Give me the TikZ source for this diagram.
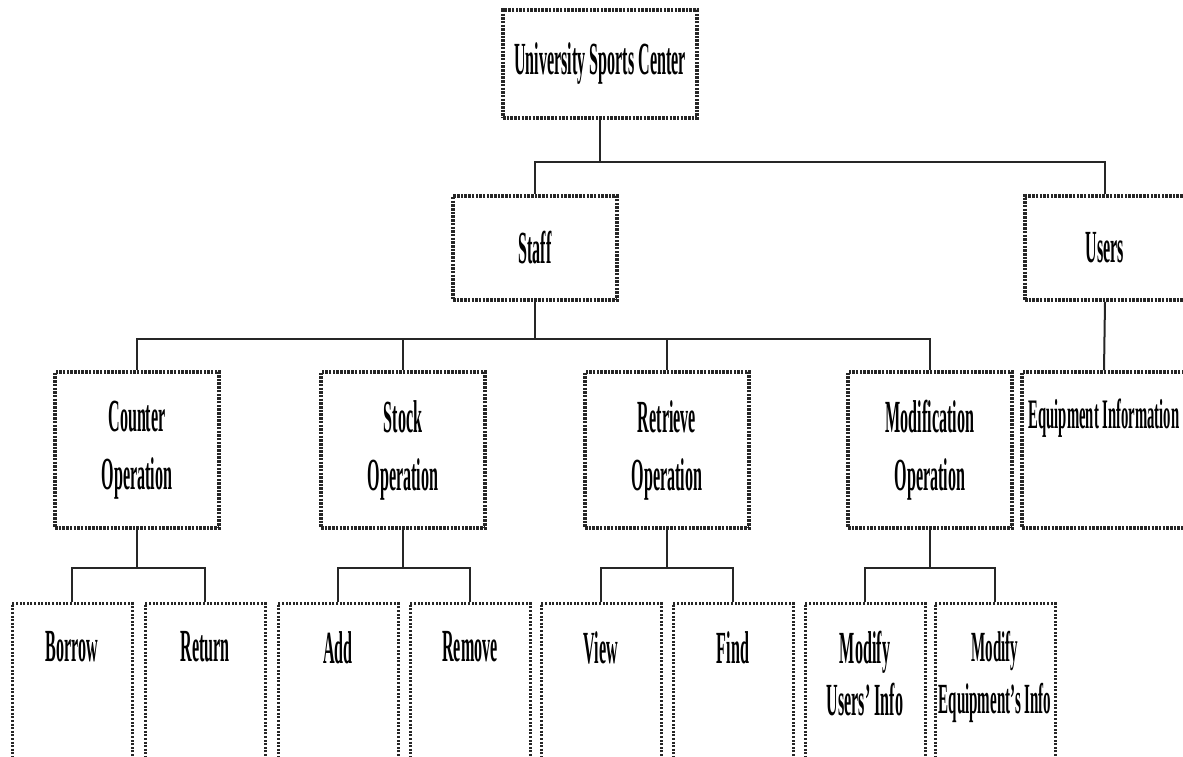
\documentclass[tikz,border=0pt]{standalone}
\usepackage{fontspec}
\setmainfont[FakeStretch=0.35]{Liberation Serif}
\usetikzlibrary{positioning,calc}

\begin{document}
\begin{tikzpicture}[
  x=1pt, y=-1pt,
  font=\fontsize{46}{52}\selectfont\bfseries,
  unit/.style={
    rectangle, draw=black!85, line width=3.6pt, dash pattern=on 2.5pt off 1.2pt,
    minimum width=164, minimum height=104, align=center, inner sep=0pt
  },
  task/.style={unit, minimum height=156, font=\fontsize{46}{58}\selectfont\bfseries},
  leaf/.style={
    rectangle, draw=black!85, line width=3pt, dash pattern=on 2pt off 1.6pt,
    minimum width=120, minimum height=180, anchor=north
  },
  toplabel/.style={anchor=north, inner sep=0pt, yshift=-29, align=center},
  link/.style={draw=black!85, line width=2pt}
]
\useasboundingbox (0,0) rectangle (1183,756);
\clip (0,0) rectangle (1183,756);
\fill[white] (0,0) rectangle (1183,756);

% top levels
\node[unit, minimum width=194, minimum height=108] (usc) at (600,64) {University Sports Center};
\node[unit] (staff) at (535,248) {Staff};
\node[unit, minimum width=160] (users) at (1105,248) {Users};

\node[task] (counter) at (137,450) {Counter\\Operation};
\node[task] (stock) at (403,450) {Stock\\Operation};
\node[task] (retrieve) at (667,450) {Retrieve\\Operation};
\node[task] (modif) at (930,450) {Modification\\Operation};
\node[task, label={[toplabel, font=\fontsize{42}{50}\selectfont\bfseries]north:Equipment Information}] (equip) at (1104,450) {};

% leaves
\node[leaf, label={[toplabel]north:Borrow}] (borrow) at (72,602) {};
\node[leaf, label={[toplabel]north:Return}] (return) at (205,602) {};
\node[leaf, label={[toplabel]north:Add}] (add) at (338,602) {};
\node[leaf, label={[toplabel]north:Remove}] (remove) at (470,602) {};
\node[leaf, label={[toplabel]north:View}] (view) at (601,602) {};
\node[leaf, label={[toplabel]north:Find}] (find) at (733,602) {};
\node[leaf, label={[toplabel]north:Modify\\Users' Info}] (moduser) at (865,602) {};
\node[leaf, label={[toplabel, font=\fontsize{43}{52}\selectfont\bfseries]north:Modify\\Equipment's Info}] (modequip) at (995,602) {};

% connectors
\draw[link] (usc.south) -- ++(0,42) coordinate (busA);
\draw[link] (busA) -| (staff.north);
\draw[link] (busA) -| (users.north);

\draw[link] (staff.south) -- ++(0,37) coordinate (busB);
\foreach \n in {counter,stock,retrieve,modif}
  \draw[link] (busB) -| (\n.north);
\draw[link] (users.south) -- (equip.north);

\draw[link] (counter.south) -- ++(0,38) coordinate (busC);
\draw[link] (busC) -| (borrow.north);
\draw[link] (busC) -| (return.north);
\draw[link] (stock.south) -- ++(0,38) coordinate (busD);
\draw[link] (busD) -| (add.north);
\draw[link] (busD) -| (remove.north);
\draw[link] (retrieve.south) -- ++(0,38) coordinate (busE);
\draw[link] (busE) -| (view.north);
\draw[link] (busE) -| (find.north);
\draw[link] (modif.south) -- ++(0,38) coordinate (busF);
\draw[link] (busF) -| (moduser.north);
\draw[link] (busF) -| (modequip.north);

\end{tikzpicture}
\end{document}
